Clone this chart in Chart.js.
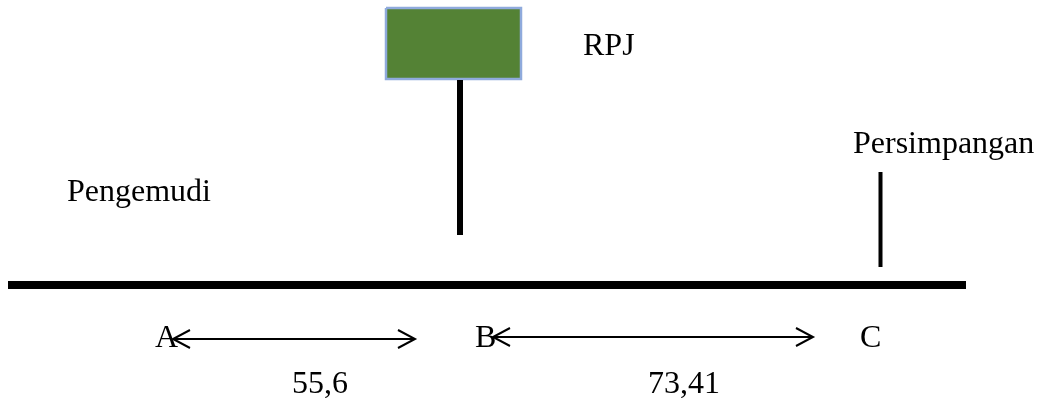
<html>
  <head>
    <title>RPJ - Persimpangan</title>
    <script src="https://cdn.jsdelivr.net/npm/chart.js@4.4.0/dist/chart.umd.min.js"></script>
    <style>
      body { margin: 0; background: #fff; }
      #wrap { width: 1041px; height: 398px; }
    </style>
  </head>
  <body>
    <div id="wrap"><canvas id="diagram" width="1041" height="398"></canvas></div>
    <script>
      // diagram units: x along the road, y downwards (both span the canvas)
      var roadX = [8, 966];
      var roadY = 285;

      // sign board (RPJ) and its pole
      var boardX = [386, 521];
      var boardY = [8, 79];
      var poleX = 460;
      var poleY = [80, 235];

      // junction marker
      var junctionX = 880.5;
      var junctionY = [172, 267];

      // distance arrows A->B and B->C
      var arrowFrom = [173, 493];
      var arrowTo = [415, 813];
      var arrowY = [339, 337];
      var distances = ['55,6', '73,41'];
      var distanceX = [292, 648];
      var distanceY = 393;

      // point names
      var points = ['A', 'B', 'C'];
      var pointX = [155, 475, 860];
      var pointY = 347;

      // other captions
      var captions = ['RPJ', 'Pengemudi', 'Persimpangan'];
      var captionX = [583, 67, 853];
      var captionY = [55, 201, 153];

      function seg(points, color, width, extra) {
        var ds = {
          data: points,
          showLine: true,
          borderColor: color,
          borderWidth: width,
          pointRadius: 0,
          fill: false,
          borderCapStyle: 'butt'
        };
        return Object.assign(ds, extra || {});
      }

      var datasets = [];
      datasets.push(seg([{x: roadX[0], y: roadY}, {x: roadX[1], y: roadY}], '#000', 8));
      datasets.push(seg([{x: poleX, y: poleY[0]}, {x: poleX, y: poleY[1]}], '#000', 6));
      datasets.push(seg([{x: junctionX, y: junctionY[0]}, {x: junctionX, y: junctionY[1]}], '#000', 4));
      datasets.push(seg([
        {x: boardX[0], y: boardY[0]}, {x: boardX[1], y: boardY[0]},
        {x: boardX[1], y: boardY[1]}, {x: boardX[0], y: boardY[1]},
        {x: boardX[0], y: boardY[0]}
      ], '#8FAADC', 2.5, {fill: 'shape', backgroundColor: '#548235', borderJoinStyle: 'miter'}));

      var headLen = 17, headHalf = 9;
      for (var i = 0; i < arrowFrom.length; i++) {
        var a = arrowFrom[i], b = arrowTo[i], y = arrowY[i];
        datasets.push(seg([{x: a, y: y}, {x: b, y: y}], '#000', 2));
        datasets.push(seg([{x: a + headLen, y: y - headHalf}, {x: a, y: y}, {x: a + headLen, y: y + headHalf}], '#000', 2));
        datasets.push(seg([{x: b - headLen, y: y - headHalf}, {x: b, y: y}, {x: b - headLen, y: y + headHalf}], '#000', 2));
      }

      var textPlugin = {
        id: 'texts',
        afterDatasetsDraw: function(chart) {
          var ctx = chart.ctx, sx = chart.scales.x, sy = chart.scales.y;
          ctx.save();
          ctx.fillStyle = '#000';
          ctx.font = '32px "Liberation Serif", "Times New Roman", serif';
          ctx.textAlign = 'left';
          ctx.textBaseline = 'alphabetic';
          function put(t, x, y) {
            ctx.fillText(t, sx.getPixelForValue(x), sy.getPixelForValue(y));
          }
          captions.forEach(function(t, i) { put(t, captionX[i], captionY[i]); });
          points.forEach(function(t, i) { put(t, pointX[i], pointY); });
          distances.forEach(function(t, i) { put(t, distanceX[i], distanceY); });
          ctx.restore();
        }
      };

      new Chart('diagram', {
        type: 'scatter',
        data: { datasets: datasets },
        options: {
          responsive: false,
          animation: false,
          layout: { padding: 0 },
          plugins: { legend: { display: false }, tooltip: { enabled: false } },
          scales: {
            x: { type: 'linear', min: 0, max: 1041, display: false },
            y: { type: 'linear', min: 0, max: 398, reverse: true, display: false }
          }
        },
        plugins: [textPlugin]
      });
    </script>
  </body>
</html>
